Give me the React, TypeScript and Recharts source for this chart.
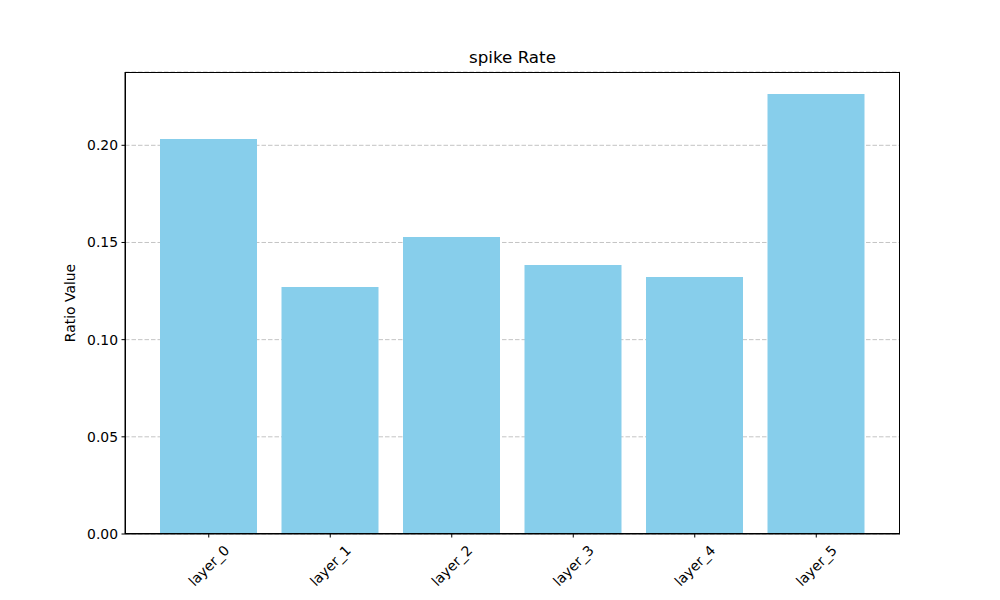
import React from 'react'
import { BarChart, Bar, XAxis, YAxis, CartesianGrid } from 'recharts'

const LAYERS = ['layer_0', 'layer_1', 'layer_2', 'layer_3', 'layer_4', 'layer_5']
const SPIKE_RATES = [0.2032, 0.1271, 0.1528, 0.1384, 0.1322, 0.2264]
const Y_TICKS = [0, 0.05, 0.1, 0.15, 0.2]

const FONT = '"DejaVu Sans", sans-serif'

const data = LAYERS.map((name, i) => ({ name, value: SPIKE_RATES[i] }))

function RotatedTick(props: any) {
  const { x, y, payload } = props
  return (
    <text
      x={x}
      y={y + 26}
      transform={`rotate(-45, ${x}, ${y + 26})`}
      textAnchor="middle"
      dominantBaseline="central"
      fontSize={13.9}
      fontFamily={FONT}
      fill="#000"
    >
      {payload.value}
    </text>
  )
}

function YLabel(props: any) {
  const { viewBox } = props
  const cx = viewBox.x + 70
  const cy = viewBox.y + viewBox.height / 2
  return (
    <text
      x={cx}
      y={cy}
      transform={`rotate(-90, ${cx}, ${cy})`}
      textAnchor="middle"
      dominantBaseline="central"
      fontSize={13.9}
      fontFamily={FONT}
      fill="#000"
    >
      Ratio Value
    </text>
  )
}

export default function App() {
  return (
    <div style={{ position: 'absolute', left: 0, top: 0, width: 1000, height: 600, background: '#fff' }}>
      <div
        style={{
          position: 'absolute',
          left: 125,
          width: 775,
          top: 47,
          textAlign: 'center',
          fontFamily: FONT,
          fontSize: 16.7,
          lineHeight: '20px',
          color: '#000',
        }}
      >
        spike Rate
      </div>
      <BarChart
        width={1000}
        height={600}
        data={data}
        margin={{ top: 72, right: 100, bottom: 0, left: 0 }}
        barCategoryGap={0}
      >
        <CartesianGrid vertical={false} horizontal stroke="#c4c4c4" strokeDasharray="4.5 2" />
        <XAxis
          dataKey="name"
          height={66}
          padding={{ left: 23, right: 23 }}
          tick={<RotatedTick />}
          tickLine={{ stroke: '#000' }}
          tickSize={3.5}
          axisLine={{ stroke: '#000' }}
          interval={0}
        />
        <YAxis
          width={125}
          domain={[0, (max: number) => max * 1.05]}
          ticks={Y_TICKS}
          tickFormatter={(v: number) => v.toFixed(2)}
          tick={{ fontSize: 13.9, fontFamily: FONT, fill: '#000' }}
          tickLine={{ stroke: '#000' }}
          tickSize={3.5}
          tickMargin={3.5}
          axisLine={{ stroke: '#000' }}
          label={<YLabel />}
        />
        <Bar dataKey="value" fill="#87CEEB" barSize={97} isAnimationActive={false} />
      </BarChart>
      {/* axes frame (top/right spines) */}
      <div
        style={{
          position: 'absolute',
          left: 125,
          top: 72,
          width: 775,
          height: 462,
          boxSizing: 'border-box',
          border: '1px solid #000',
          pointerEvents: 'none',
        }}
      />
    </div>
  )
}
